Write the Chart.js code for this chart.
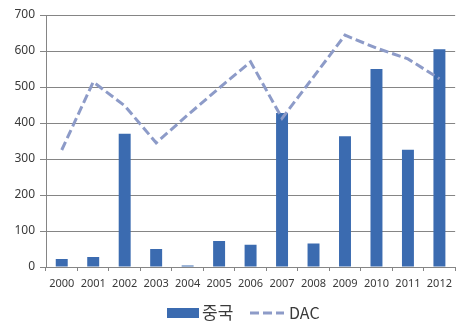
<!DOCTYPE html>
<html>
<head>
<meta charset="utf-8">
<script src="https://cdn.jsdelivr.net/npm/chart.js@4/dist/chart.umd.min.js"></script>
<style>
  html, body { margin: 0; padding: 0; background: #ffffff; overflow: hidden; }
  #wrap { position: relative; width: 458px; height: 322px; }
</style>
</head>
<body>
<div id="wrap"><canvas id="chart" width="458" height="322"></canvas></div>
<script>
// Years on the category axis
const years = ['2000','2001','2002','2003','2004','2005','2006','2007','2008','2009','2010','2011','2012'];
// Series values
const chinaValues = [22, 28, 370, 50, 4, 72, 62, 428, 65, 363, 550, 326, 605];
const dacValues = [325, 514, 448, 345, 422, 497, 570, 413, 528, 644, 608, 578, 523];
// Series names
const seriesNames = ['중국', 'DAC'];
// Value axis ticks
const yTicks = [0, 100, 200, 300, 400, 500, 600, 700];

const BAR_COLOR = '#3b6bb0';
const LINE_COLOR = '#8d9bc8';
const GRID_COLOR = '#858585';
const TEXT_COLOR = '#3a3a3a';
const DASH = [9, 4];

// Legend drawn below the axis labels
const bottomLegend = {
  id: 'bottomLegend',
  afterDraw(chart) {
    const ctx = chart.ctx;
    const y = 313;
    ctx.save();
    ctx.textBaseline = 'middle';
    ctx.textAlign = 'left';
    // bar swatch
    ctx.fillStyle = BAR_COLOR;
    ctx.fillRect(167, y - 5, 32, 10);
    ctx.fillStyle = TEXT_COLOR;
    ctx.font = '17px "Noto Sans CJK KR", "Noto Sans", sans-serif';
    ctx.fillText(seriesNames[0], 202, y);
    // dashed line swatch
    ctx.strokeStyle = LINE_COLOR;
    ctx.lineWidth = 3;
    ctx.setLineDash(DASH);
    ctx.beginPath();
    ctx.moveTo(250, y);
    ctx.lineTo(284, y);
    ctx.stroke();
    ctx.setLineDash([]);
    ctx.font = '16px "Noto Sans CJK KR", "Noto Sans", sans-serif';
    ctx.fillText(seriesNames[1], 289, y);
    ctx.restore();
  }
};

new Chart(document.getElementById('chart'), {
  data: {
    labels: years,
    datasets: [
      {
        type: 'line',
        label: seriesNames[1],
        data: dacValues,
        borderColor: LINE_COLOR,
        borderWidth: 3,
        borderDash: DASH,
        borderCapStyle: 'butt',
        tension: 0,
        pointRadius: 0,
        pointHoverRadius: 0,
        fill: false,
        order: 0
      },
      {
        type: 'bar',
        label: seriesNames[0],
        data: chinaValues,
        backgroundColor: BAR_COLOR,
        borderWidth: 0,
        categoryPercentage: 1,
        barPercentage: 0.38,
        order: 1
      }
    ]
  },
  options: {
    responsive: false,
    animation: false,
    events: [],
    layout: { padding: { top: 15, right: 0, bottom: 0, left: 0 } },
    plugins: {
      legend: { display: false },
      tooltip: { enabled: false },
      title: { display: false }
    },
    scales: {
      x: {
        type: 'category',
        offset: true,
        grid: {
          offset: true,
          drawOnChartArea: false,
          drawTicks: true,
          tickLength: 4,
          color: GRID_COLOR
        },
        border: { display: true, color: GRID_COLOR, width: 1 },
        ticks: {
          color: TEXT_COLOR,
          font: { family: '"Noto Sans", sans-serif', size: 11 },
          padding: 6,
          maxRotation: 0,
          autoSkip: false
        },
        afterFit(scale) { scale.height = 55; }
      },
      y: {
        min: 0,
        max: 700,
        afterBuildTicks(scale) { scale.ticks = yTicks.map(v => ({ value: v })); },
        grid: {
          color: GRID_COLOR,
          lineWidth: 1,
          drawTicks: true,
          tickLength: 6
        },
        border: { display: true, color: GRID_COLOR, width: 1 },
        ticks: {
          color: TEXT_COLOR,
          font: { family: '"Noto Sans", sans-serif', size: 12 },
          padding: 5
        },
        afterFit(scale) { scale.width = 46; }
      }
    }
  },
  plugins: [bottomLegend]
});
</script>
</body>
</html>
